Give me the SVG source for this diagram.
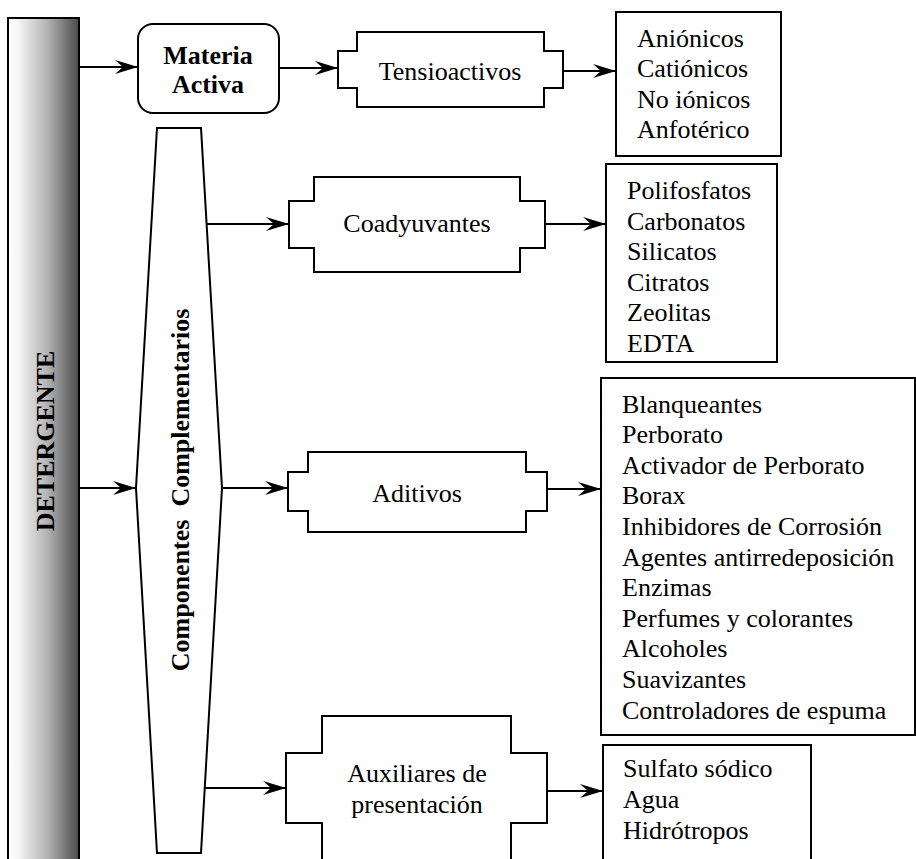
<svg xmlns="http://www.w3.org/2000/svg" width="916" height="859" viewBox="0 0 916 859">
<defs>
<linearGradient id="barGrad" x1="0" y1="0" x2="1" y2="0">
<stop offset="0" stop-color="#ffffff"/>
<stop offset="0.15" stop-color="#f4f4f4"/>
<stop offset="0.55" stop-color="#b4b4b4"/>
<stop offset="1" stop-color="#4a4a4a"/>
</linearGradient>
<marker id="ah" markerWidth="26" markerHeight="16" viewBox="-24 -8 26 16" refX="0" refY="0" orient="auto" markerUnits="userSpaceOnUse">
<path d="M0,0 L-23,-7 L-15,0 L-23,7 Z" fill="#000"/>
</marker>
<style>
.shape{fill:#fff;stroke:#000;stroke-width:2}
.t{font-family:"Liberation Serif","Times New Roman",serif;font-size:26px;fill:#000}
.b{font-weight:bold}
.c{text-anchor:middle}
.conn line{stroke:#000;stroke-width:2;marker-end:url(#ah)}
</style>
</defs>
<rect width="916" height="859" fill="#fff"/>

<g id="detergente">
<rect x="8" y="18" width="71" height="900" fill="url(#barGrad)" stroke="#000" stroke-width="2"/>
<text class="t b c" transform="translate(54,441) rotate(-90)">DETERGENTE</text>
</g>

<g id="materia-activa">
<rect class="shape" x="138" y="24" width="141" height="89" rx="15" ry="15"/>
<text class="t b c" x="208" y="64">Materia</text>
<text class="t b c" x="208" y="93">Activa</text>
</g>

<g id="tensioactivos">
<path class="shape" d="M357,32 H544 V51 H563 V88 H544 V107 H357 V88 H338 V51 H357 Z"/>
<text class="t c" x="450" y="80">Tensioactivos</text>
</g>

<g id="tipos-tensioactivos">
<rect class="shape" x="616" y="12" width="165" height="144"/>
<text class="t" x="637" y="46.5">Aniónicos</text>
<text class="t" x="637" y="77.1">Catiónicos</text>
<text class="t" x="637" y="107.7">No iónicos</text>
<text class="t" x="637" y="138.3">Anfotérico</text>
</g>

<g id="componentes-complementarios">
<polygon class="shape" points="157,128 201,128 222,488 201,853 157,853 136,488"/>
<text class="t b c" transform="translate(189,490) rotate(-90)">Componentes&#160; Complementarios</text>
</g>

<g id="coadyuvantes">
<path class="shape" d="M314,177 H520 V201 H545 V248 H520 V272 H314 V248 H289 V201 H314 Z"/>
<text class="t c" x="417" y="232">Coadyuvantes</text>
</g>

<g id="tipos-coadyuvantes">
<rect class="shape" x="606" y="164" width="171" height="198"/>
<text class="t" x="627" y="199">Polifosfatos</text>
<text class="t" x="627" y="229.6">Carbonatos</text>
<text class="t" x="627" y="260.2">Silicatos</text>
<text class="t" x="627" y="290.8">Citratos</text>
<text class="t" x="627" y="321.4">Zeolitas</text>
<text class="t" x="627" y="352">EDTA</text>
</g>

<g id="aditivos">
<path class="shape" d="M308,452 H526 V472 H547 V511 H526 V532 H308 V511 H288 V472 H308 Z"/>
<text class="t c" x="417" y="502">Aditivos</text>
</g>

<g id="tipos-aditivos">
<rect class="shape" x="601" y="378" width="314" height="357"/>
<text class="t" x="622" y="412.5">Blanqueantes</text>
<text class="t" x="622" y="443.1">Perborato</text>
<text class="t" x="622" y="473.7">Activador de Perborato</text>
<text class="t" x="622" y="504.3">Borax</text>
<text class="t" x="622" y="534.9">Inhibidores de Corrosión</text>
<text class="t" x="622" y="565.5">Agentes antirredeposición</text>
<text class="t" x="622" y="596.1">Enzimas</text>
<text class="t" x="622" y="626.7">Perfumes y colorantes</text>
<text class="t" x="622" y="657.3">Alcoholes</text>
<text class="t" x="622" y="687.9">Suavizantes</text>
<text class="t" x="622" y="718.5">Controladores de espuma</text>
</g>

<g id="auxiliares">
<path class="shape" d="M322,716 H511 V753 H547 V823 H511 V900 H322 V823 H286 V753 H322 Z"/>
<text class="t c" x="417" y="782">Auxiliares de</text>
<text class="t c" x="417" y="813">presentación</text>
</g>

<g id="tipos-auxiliares">
<rect class="shape" x="603" y="745" width="208" height="200"/>
<text class="t" x="623" y="777">Sulfato sódico</text>
<text class="t" x="623" y="808">Agua</text>
<text class="t" x="623" y="839">Hidrótropos</text>
</g>

<g id="connectors" class="conn">
<line x1="80" y1="67" x2="138" y2="67"/>
<line x1="279" y1="68" x2="338" y2="68"/>
<line x1="563" y1="71" x2="616" y2="71"/>
<line x1="80" y1="488" x2="136" y2="488"/>
<line x1="206" y1="224" x2="289" y2="224"/>
<line x1="545" y1="224" x2="606" y2="224"/>
<line x1="222" y1="488" x2="288" y2="488"/>
<line x1="547" y1="489" x2="601" y2="489"/>
<line x1="205" y1="788" x2="286" y2="788"/>
<line x1="547" y1="791" x2="603" y2="791"/>
</g>
</svg>
